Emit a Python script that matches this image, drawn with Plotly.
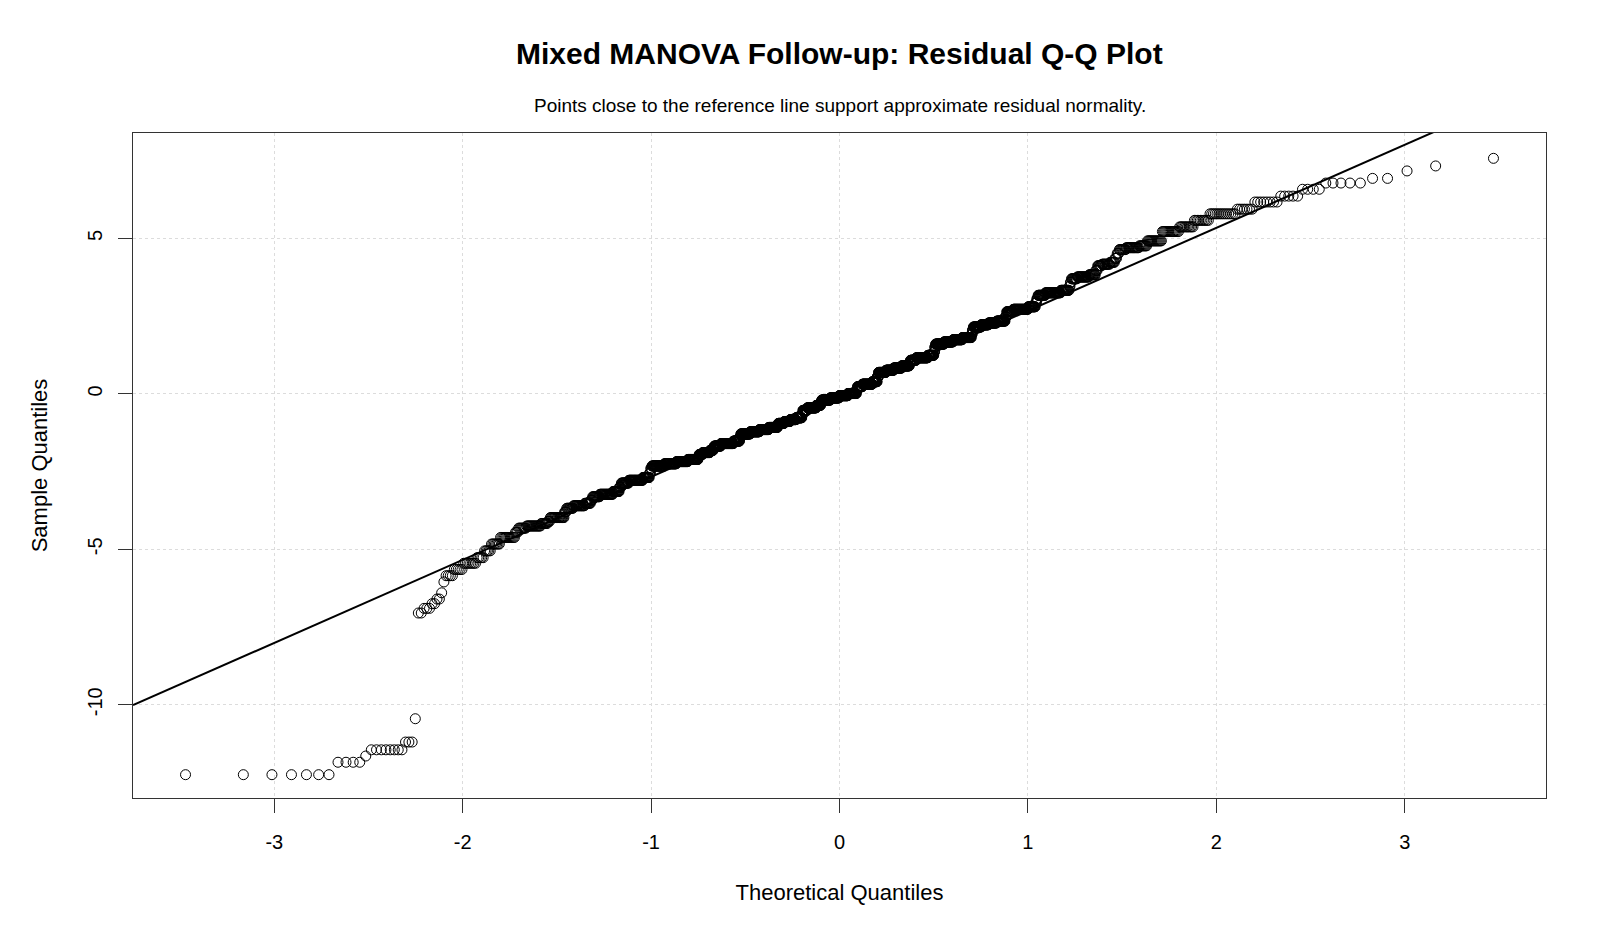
import plotly.graph_objects as go
from statistics import NormalDist

# ---- Data ----
# Sorted residual values (distinct levels) and how many residuals sit at each level
resid_levels = [
    -12.25, -11.85, -11.65, -11.45, -11.2, -10.45,
    -7.05, -6.9, -6.75, -6.6, -6.4, -6.05, -5.85, -5.65,
    -5.45, -5.27, -5.05, -4.83, -4.62, -4.45,
    -4.32, -4.25, -4.17, -4.1, -3.98, -3.8,
    -3.68, -3.60, -3.52, -3.42,
    -3.31, -3.23, -3.14, -3.0,
    -2.87, -2.78, -2.69, -2.55, -2.4,
    -2.32, -2.25, -2.18, -2.11, -2.03,
    -1.95, -1.89, -1.82, -1.75,
    -1.68, -1.60, -1.52, -1.4,
    -1.29, -1.22, -1.15, -1.08, -1.02,
    -0.95, -0.89, -0.83, -0.77, -0.66,
    -0.53, -0.45, -0.37, -0.28,
    -0.20, -0.13, -0.06, 0.01, 0.12,
    0.23, 0.31, 0.39, 0.55,
    0.69, 0.76, 0.83, 0.90, 0.99,
    1.08, 1.16, 1.24, 1.35, 1.50,
    1.60, 1.67, 1.74, 1.81, 1.92, 2.05,
    2.15, 2.22, 2.28, 2.34, 2.48,
    2.64, 2.72, 2.80, 2.93, 3.06,
    3.17, 3.25, 3.33, 3.46, 3.59,
    3.70, 3.76, 3.83, 3.97,
    4.12, 4.17, 4.23, 4.36, 4.52,
    4.64, 4.70, 4.76, 4.92, 5.22, 5.37, 5.58, 5.79, 5.94, 6.17, 6.36,
    6.58, 6.78, 6.93, 7.17, 7.33, 7.575,
]
resid_counts = [
    7, 4, 1, 8, 3, 1,
    2, 3, 2, 2, 1, 1, 4, 5,
    8, 5, 5, 7, 13, 3,
    8, 16, 8, 3, 19, 3,
    10, 18, 10, 3,
    13, 25, 13, 4,
    16, 32, 16, 3, 3,
    32, 33, 33, 31, 3,
    11, 23, 11, 3,
    22, 43, 22, 4,
    34, 34, 35, 34, 3,
    23, 23, 24, 23, 4,
    18, 36, 18, 4,
    35, 36, 36, 35, 4,
    20, 40, 20, 5,
    30, 30, 31, 30, 4,
    22, 43, 22, 3, 3,
    30, 31, 31, 30, 3, 3,
    24, 23, 24, 24, 4,
    18, 38, 18, 3, 3,
    17, 33, 17, 2, 2,
    11, 21, 11, 3,
    7, 12, 7, 3, 3,
    9, 16, 9, 15, 15, 11, 10, 14, 7, 8, 5,
    4, 5, 2, 1, 1, 1,
]

# Reference line (qqline)
line_intercept = 0.0
line_slope = 2.67

x_ticks = [-3, -2, -1, 0, 1, 2, 3]
y_ticks = [-10, -5, 0, 5]

title_text = "<b>Mixed MANOVA Follow-up: Residual Q-Q Plot</b>"
subtitle_text = "Points close to the reference line support approximate residual normality."

# ---- Q-Q construction (as qqnorm does: ppoints with a = 0.5) ----
sample = []
for v, c in zip(resid_levels, resid_counts):
    sample.extend([v] * c)
n = len(sample)
nd = NormalDist()
theoretical = [nd.inv_cdf((i + 0.5) / n) for i in range(n)]

x_lo, x_hi = -3.75, 3.75
y_lo, y_hi = -13.0, 8.39

FONT = "Liberation Sans, Arial, sans-serif"
W, H = 1600, 933
M_L, M_R, M_T, M_B = 133, 54, 133, 135
plot_h = H - M_T - M_B


def py(pix):  # pixel y from top -> paper coordinate
    return (H - M_B - pix) / plot_h


fig = go.Figure()
fig.add_trace(go.Scatter(
    x=theoretical, y=sample, mode="markers",
    marker=dict(symbol="circle-open", size=10, color="black", line=dict(width=1)),
    hoverinfo="skip", showlegend=False,
))
fig.add_trace(go.Scatter(
    x=[x_lo, x_hi],
    y=[line_intercept + line_slope * x_lo, line_intercept + line_slope * x_hi],
    mode="lines", line=dict(color="black", width=2),
    hoverinfo="skip", showlegend=False,
))

fig.update_layout(
    width=W, height=H,
    paper_bgcolor="white", plot_bgcolor="white",
    margin=dict(l=M_L, r=M_R, t=M_T, b=M_B),
    font=dict(family=FONT, color="black", size=16),
    showlegend=False,
)
fig.add_annotation(text=title_text, x=0.5, xref="paper", y=py(53), yref="paper",
                   showarrow=False, font=dict(size=30, family=FONT),
                   xanchor="center", yanchor="middle")
fig.add_annotation(text=subtitle_text, x=0.5, xref="paper", y=py(105), yref="paper",
                   showarrow=False, font=dict(size=19, family=FONT),
                   xanchor="center", yanchor="middle")

fig.update_xaxes(
    range=[x_lo, x_hi], tickmode="array", tickvals=x_ticks,
    ticktext=[str(t) for t in x_ticks],
    ticks="outside", ticklen=14, tickcolor="#333", tickwidth=1,
    ticklabelstandoff=12,
    showline=True, mirror=True, linecolor="#333", linewidth=1,
    showgrid=True, gridcolor="#dcdcdc", griddash="dot", gridwidth=1,
    zeroline=False, tickfont=dict(size=20),
    title=dict(text="Theoretical Quantiles", font=dict(size=22), standoff=32),
)
fig.update_yaxes(
    range=[y_lo, y_hi], tickmode="array", tickvals=y_ticks,
    ticktext=[str(t) for t in y_ticks], tickangle=-90,
    ticks="outside", ticklen=14, tickcolor="#333", tickwidth=1,
    ticklabelstandoff=8,
    showline=True, mirror=True, linecolor="#333", linewidth=1,
    showgrid=True, gridcolor="#dcdcdc", griddash="dot", gridwidth=1,
    zeroline=False, tickfont=dict(size=20),
    title=dict(text="Sample Quantiles", font=dict(size=22), standoff=30),
)

fig.write_html("out.html")
